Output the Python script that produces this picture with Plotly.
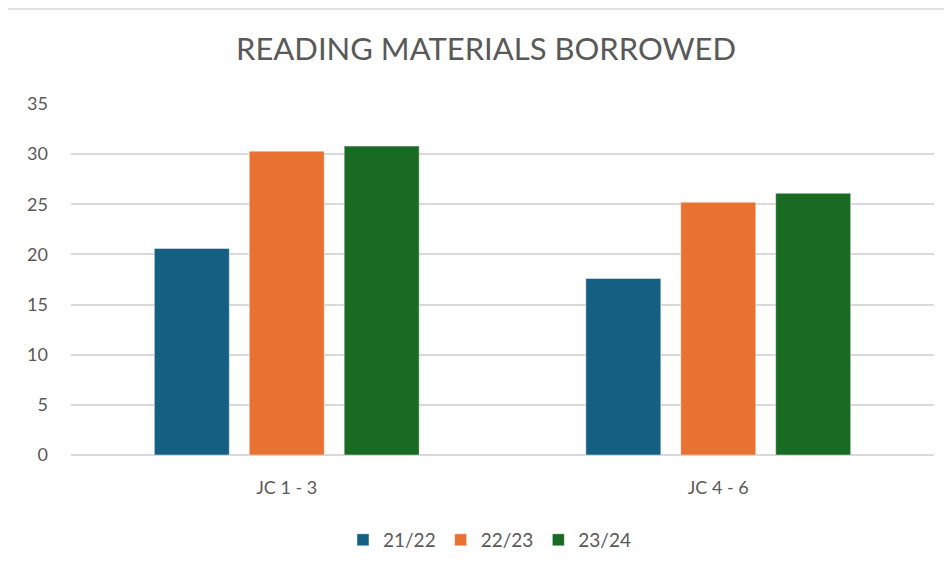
import plotly.graph_objects as go

categories = ["JC 1 - 3", "JC 4 - 6"]
series_names = ["21/22", "22/23", "23/24"]
values_2122 = [20.6, 17.6]
values_2223 = [30.3, 25.2]
values_2324 = [30.8, 26.1]
colors = ["#156082", "#E97132", "#196B24"]
y_ticks = [0, 5, 10, 15, 20, 25, 30, 35]

fig = go.Figure()
for name, vals, col in zip(series_names, [values_2122, values_2223, values_2324], colors):
    fig.add_trace(go.Bar(
        x=categories, y=vals, name=name,
        marker=dict(color=col, line=dict(color="rgba(255,255,255,0.45)", width=1)),
    ))

font_family = "Lato, 'Liberation Sans', sans-serif"
# page body adds an 8px offset; margins compensate for it
fig.update_layout(
    width=952, height=574,
    margin=dict(l=63, r=26, t=96, b=127),
    paper_bgcolor="white", plot_bgcolor="white",
    barmode="group", bargap=0.34, bargroupgap=0.21,
    title=dict(text="READING MATERIALS BORROWED", x=(486 - 8) / 952, xanchor="center",
               y=1 - 41 / 574, yanchor="middle", yref="container",
               font=dict(family=font_family, size=31, color="#595959")),
    font=dict(family=font_family, color="#595959"),
    showlegend=True,
    legend=dict(orientation="h", x=0.4855, xanchor="center", y=-0.242, yanchor="middle",
                font=dict(size=19, color="#595959"), itemwidth=30, traceorder="normal"),
    xaxis=dict(showgrid=False, showline=False, ticks="", tickfont=dict(size=18, color="#595959"),
               ticklabelstandoff=20),
    yaxis=dict(range=[0, 35], tickvals=y_ticks, showgrid=True, gridcolor="#d9d9d9", gridwidth=1.5,
               zeroline=True, zerolinecolor="#d9d9d9", zerolinewidth=1.5, showline=False,
               tickfont=dict(size=18, color="#595959"), ticklabelstandoff=22),
    shapes=[dict(type="rect", xref="paper", yref="paper",
                 x0=(7 - 71) / 863, x1=1.2, y0=-0.6, y1=(455 - 9) / 351,
                 line=dict(color="#d9d9d9", width=1.5), fillcolor="rgba(0,0,0,0)", layer="below")],
)

fig.write_html("out.html")
